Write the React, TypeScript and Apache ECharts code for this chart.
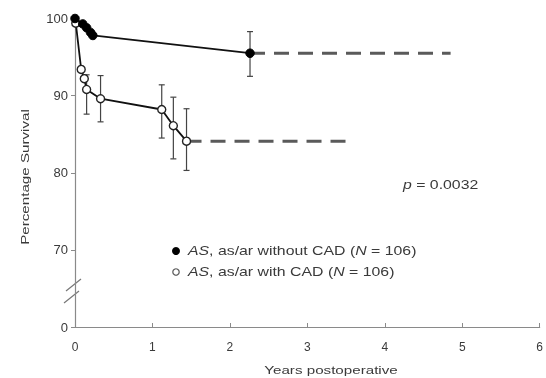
import React, { useEffect, useRef } from "react";
import * as echarts from "echarts";

const withoutYears = [0, 0.1, 0.15, 0.2, 0.23, 2.26];
const withoutSurvival = [100, 99.3, 98.8, 98.2, 97.8, 95.5];
const withoutLower = [null, null, null, null, null, 92.5];
const withoutUpper = [null, null, null, null, null, 98.3];
const withoutDashEnd = 4.85;

const withYears = [0.01, 0.08, 0.12, 0.15, 0.33, 1.12, 1.27, 1.44];
const withSurvival = [99.4, 93.4, 92.2, 90.8, 89.6, 88.2, 86.1, 84.1];
const withLower = [null, null, null, 87.6, 86.6, 84.5, 81.8, 80.3];
const withUpper = [null, null, null, 92.7, 92.6, 91.4, 89.8, 88.3];
const withDashEnd = 3.5;

const xTicks = [0, 1, 2, 3, 4, 5, 6];
const yTickLabels: Record<number, string> = { 60: "0", 70: "70", 80: "80", 90: "90", 100: "100" };

const FONT = "'Liberation Sans', Arial, sans-serif";
const TEXT = "#3a3a3a";
const STRETCH = 1.32;

function errData(xs: number[], lo: (number | null)[], hi: (number | null)[]) {
  const out: number[][] = [];
  xs.forEach((x, i) => {
    if (lo[i] != null && hi[i] != null) out.push([x, lo[i] as number, hi[i] as number]);
  });
  return out;
}

function errorSeries(data: number[][]) {
  return {
    type: "custom",
    data,
    z: 1,
    silent: true,
    renderItem: (params: any, api: any) => {
      const x = api.value(0);
      const lo = api.coord([x, api.value(1)]);
      const hi = api.coord([x, api.value(2)]);
      const w = 3;
      const style = { stroke: "#444", lineWidth: 1.2 };
      return {
        type: "group",
        children: [
          { type: "line", shape: { x1: lo[0], y1: lo[1], x2: hi[0], y2: hi[1] }, style },
          { type: "line", shape: { x1: lo[0] - w, y1: lo[1], x2: lo[0] + w, y2: lo[1] }, style },
          { type: "line", shape: { x1: hi[0] - w, y1: hi[1], x2: hi[0] + w, y2: hi[1] }, style },
        ],
      };
    },
  };
}

function richText(text: string, x: number, y: number, size: number, extra: any = {}) {
  return {
    type: "text",
    x,
    y,
    scaleX: STRETCH,
    ...extra,
    style: {
      text,
      verticalAlign: "middle",
      align: extra.align ?? "left",
      fill: TEXT,
      font: `${size}px ${FONT}`,
      rich: { i: { fontStyle: "italic", fontSize: size, fill: TEXT, fontFamily: FONT } },
    },
  };
}

export default function App() {
  const ref = useRef<HTMLDivElement>(null);
  useEffect(() => {
    if (!ref.current) return;
    const chart = echarts.init(ref.current, null, { renderer: "svg" });
    const lastW = withoutYears.length - 1;
    const lastC = withYears.length - 1;
    chart.setOption({
      animation: false,
      textStyle: { fontFamily: FONT },
      grid: { left: 75, right: 4, top: 18.5, bottom: 51 },
      xAxis: {
        type: "value",
        min: 0,
        max: 6,
        interval: 1,
        axisLine: { lineStyle: { color: "#8a8a8a", width: 1.2 } },
        axisTick: { inside: true, length: 4, lineStyle: { color: "#8a8a8a" } },
        axisLabel: {
          color: TEXT,
          fontSize: 12,
          margin: 14,
          formatter: (v: number) => (xTicks.includes(v) ? String(v) : ""),
        },
        splitLine: { show: false },
      },
      yAxis: {
        type: "value",
        min: 60,
        max: 100,
        interval: 10,
        axisLine: { show: true, lineStyle: { color: "#8a8a8a", width: 1.2 } },
        axisTick: { show: true, inside: false, length: 4, lineStyle: { color: "#8a8a8a" } },
        axisLabel: {
          color: TEXT,
          fontSize: 13,
          margin: 7,
          formatter: (v: number) => yTickLabels[v] ?? "",
        },
        splitLine: { show: false },
      },
      series: [
        errorSeries(errData(withYears, withLower, withUpper)),
        errorSeries(errData(withoutYears, withoutLower, withoutUpper)),
        {
          type: "line",
          data: [
            [withYears[lastC], withSurvival[lastC]],
            [withDashEnd, withSurvival[lastC]],
          ],
          symbol: "none",
          z: 2,
          lineStyle: { color: "#5a5a5a", width: 3, type: [15, 9] },
        },
        {
          type: "line",
          data: [
            [withoutYears[lastW], withoutSurvival[lastW]],
            [withoutDashEnd, withoutSurvival[lastW]],
          ],
          symbol: "none",
          z: 2,
          lineStyle: { color: "#5a5a5a", width: 3, type: [15, 9] },
        },
        {
          type: "line",
          data: withYears.map((x, i) => [x, withSurvival[i]]),
          symbol: "circle",
          symbolSize: 8,
          z: 3,
          lineStyle: { color: "#111", width: 1.8 },
          itemStyle: { color: "#fff", borderColor: "#222", borderWidth: 1.4 },
        },
        {
          type: "line",
          data: withoutYears.map((x, i) => [x, withoutSurvival[i]]),
          symbol: "circle",
          symbolSize: 8.5,
          z: 4,
          lineStyle: { color: "#111", width: 1.8 },
          itemStyle: { color: "#000", borderColor: "#000", borderWidth: 1 },
        },
      ],
      graphic: [
        { type: "line", shape: { x1: 66, y1: 291, x2: 81, y2: 279 }, style: { stroke: "#777", lineWidth: 1.3 } },
        { type: "line", shape: { x1: 64, y1: 303, x2: 79, y2: 291 }, style: { stroke: "#777", lineWidth: 1.3 } },
        { type: "circle", shape: { cx: 176, cy: 251, r: 4 }, style: { fill: "#000" } },
        { type: "circle", shape: { cx: 176, cy: 272, r: 3.2 }, style: { fill: "#fff", stroke: "#555", lineWidth: 1.2 } },
        richText("{i|AS}, as/ar without CAD ({i|N} = 106)", 188, 251, 12),
        richText("{i|AS}, as/ar with CAD ({i|N} = 106)", 188, 272, 12),
        richText("{i|p} = 0.0032", 403, 185, 12),
        richText("Years postoperative", 331, 370, 11.5, { align: "center" }),
        richText("Percentage Survival", 25, 177, 11.5, { align: "center", rotation: Math.PI / 2 }),
      ],
    });
    return () => chart.dispose();
  }, []);
  return (
    <div
      ref={ref}
      style={{ position: "fixed", left: 0, top: 0, width: 546, height: 378 }}
    />
  );
}
